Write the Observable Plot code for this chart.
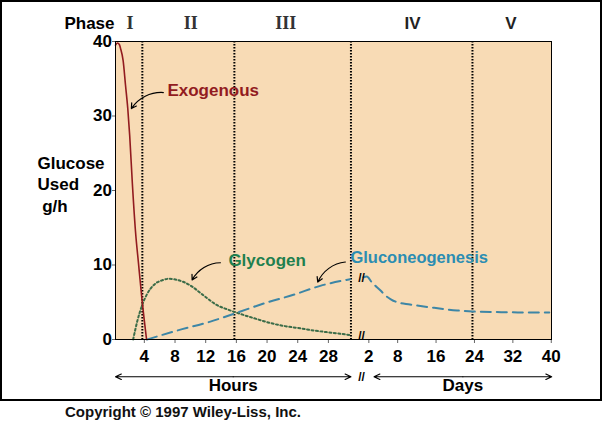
<!DOCTYPE html>
<html><head><meta charset="utf-8">
<script src="https://cdn.jsdelivr.net/npm/d3@7"></script>
<script src="https://cdn.jsdelivr.net/npm/@observablehq/plot@0.6"></script>
<style>
body{margin:0;background:#fff;font-family:"Liberation Sans",Arial,sans-serif;}
#wrap{position:relative;width:602px;height:430px;overflow:hidden;}
#box{position:absolute;left:0;top:0;width:602px;height:401px;border:2px solid #000;box-sizing:border-box;pointer-events:none;}
#cap{position:absolute;left:65px;top:403px;font-weight:bold;font-size:15px;line-height:18px;color:#111;font-family:"Liberation Sans",Arial,sans-serif;white-space:nowrap;}
</style></head><body>
<div id="wrap"><div id="chart"></div><div id="box"></div><div id="cap">Copyright © 1997 Wiley-Liss, Inc.</div></div>
<script>
// ---- data (hours section) ----
const exoHours  = [0.5, 0.75, 1.0, 1.15, 1.5, 1.8, 2.1, 2.35, 2.7, 3.1, 3.5, 3.97, 4.25, 4.55];
const exoValues = [39.5, 39.8, 39.6, 39.1, 37.4, 34.2, 31.0, 27.4, 20.9, 14.6, 10.2, 5.2, 2.6, 0];

const glyHours  = [2.8, 3.35, 3.97, 4.62, 5.7, 6.6, 7.43, 8.3, 9.3, 10.26, 12.0, 13.75, 15.2, 18.1, 22.0, 24.6, 26.4, 28.8, 31.1];
const glyValues = [0, 2.5, 4.6, 6.1, 7.5, 7.95, 8.15, 8.05, 7.75, 7.25, 5.9, 4.6, 4.0, 3.0, 1.9, 1.5, 1.2, 0.9, 0.6];

const gngHours  = [4.62, 8.53, 12.87, 16.36, 20.05, 23.7, 27.2, 31.1];
const gngValues = [0, 1.2, 2.4, 3.6, 4.9, 6.0, 7.2, 8.1];

// ---- data (days section) ----
const gngDays      = [1.3, 2, 3, 4.8, 5.9, 7, 8.3, 11, 16, 20.8, 24, 30, 35, 40];
const gngDayValues = [8.35, 8.45, 7.7, 6.6, 5.9, 5.4, 5.0, 4.7, 4.25, 3.9, 3.76, 3.67, 3.63, 3.62];

// ---- ticks / labels ----
const yTicks = [0, 10, 20, 30, 40];
const hourTicks = [4, 8, 12, 16, 20, 24, 28];
const dayTicks = [2, 8, 16, 24, 32, 40];
const phaseHourBounds = [4, 16, 31.2];
const phaseDayBounds = [24];
const phaseNamesHours = ["I", "II", "III"];
const phaseHourPos = [2.4, 10.3, 22.7];
const phaseNamesDays = ["IV", "V"];
const phaseDayPos = [11.5, 32];

// composite x: hours map directly, days are compressed after the break
const DAY0 = 32.02, DAYK = 0.626;
const dayU = d => DAY0 + d * DAYK;
const HOURS_END = 31.2;
const BREAK_U = 32.57;

const RED = "#921b1f", GREEN_L = "#1f804f", GREEN = "#3b6c48", BLUE_L = "#2b8db2", BLUE = "#3d86a6", BG = "#f8dbb5";

const exo = exoHours.map((h, i) => ({u: h, v: exoValues[i]}));
const gly = glyHours.map((h, i) => ({u: h, v: glyValues[i]}));
const gngH = gngHours.map((h, i) => ({u: h, v: gngValues[i]}));
const gngD = gngDays.map((d, i) => ({u: dayU(d), v: gngDayValues[i]}));

const phaseLines = [...phaseHourBounds, ...phaseDayBounds.map(dayU)];
const dayLabel = new Map(dayTicks.map(d => [dayU(d), String(d)]));

const labels = [
  {u: 7.27, v: 33.4, t: "Exogenous", c: RED, fs: 17},
  {u: 15.22, v: 10.6, t: "Glycogen", c: GREEN_L, fs: 17},
  {u: 31.13, v: 10.97, t: "Gluconeogenesis", c: BLUE_L, fs: 16.5}
];
const pointers = [
  {x1: 6.74, y1: 33.15, x2: 2.57, y2: 31.0},
  {x1: 14.18, y1: 10.3, x2: 10.49, y2: 8.0},
  {x1: 30.47, y1: 10.4, x2: 26.87, y2: 7.7}
];
const spans = [
  {a: 0.5, b: HOURS_END, t: "Hours"},
  {a: dayU(3.5), b: dayU(40.5), t: "Days"}
];
const spanArrows = spans.flatMap(s => [{from: (s.a + s.b) / 2, to: s.a}, {from: (s.a + s.b) / 2, to: s.b}]);
const ARROW_Y = -5.0, SPAN_LABEL_Y = -6.2;
const breaks = [{u: BREAK_U, v: 8.2}, {u: BREAK_U, v: 0.4}, {u: BREAK_U, v: ARROW_Y}];

const FONT = "Liberation Sans, Arial, sans-serif";

const chart = Plot.plot({
  width: 602, height: 400,
  marginLeft: 115, marginRight: 51, marginTop: 41, marginBottom: 61,
  x: {domain: [0.5, 57.35], axis: null},
  y: {domain: [0, 40], axis: null},
  style: {fontFamily: FONT, fontWeight: "bold", fontSize: "17px", background: "transparent", color: "#000", overflow: "visible"},
  marks: [
    Plot.frame({fill: BG, stroke: null}),
    Plot.ruleX(phaseLines, {stroke: "#000", strokeWidth: 2, strokeDasharray: "1.5,1.5"}),
    Plot.axisY(yTicks, {tickSize: 3, tickPadding: 0.5, label: null, stroke: "#666", fontSize: 17, fontWeight: "bold", fill: "#000"}),
    Plot.axisX(hourTicks, {tickSize: 4, tickPadding: 6, label: null, stroke: "#666", fontSize: 17, fontWeight: "bold", fill: "#000", dx: 2}),
    Plot.axisX(dayTicks.map(dayU), {tickSize: 4, tickPadding: 6, label: null, stroke: "#666", fontSize: 17, fontWeight: "bold", fill: "#000", dx: 2, tickFormat: u => dayLabel.get(u)}),
    Plot.line(gly, {x: "u", y: "v", stroke: GREEN, strokeWidth: 2, strokeDasharray: "2,2.5", curve: "monotone-x"}),
    Plot.line(gngH, {x: "u", y: "v", stroke: BLUE, strokeWidth: 2, strokeDasharray: "10,6", curve: "monotone-x"}),
    Plot.line(gngD, {x: "u", y: "v", stroke: BLUE, strokeWidth: 2, strokeDasharray: "10,6", curve: "monotone-x"}),
    Plot.line(exo, {x: "u", y: "v", stroke: RED, strokeWidth: 1.6, curve: "monotone-x"}),
    Plot.frame({stroke: "#000", strokeWidth: 1}),
    Plot.arrow(pointers, {x1: "x1", y1: "y1", x2: "x2", y2: "y2", bend: -30, stroke: "#000", strokeWidth: 1.2, headLength: 7}),
    Plot.text(labels, {x: "u", y: "v", text: "t", fill: "c", textAnchor: "start", fontSize: d => d.fs, fontWeight: "bold"}),
    Plot.text(breaks, {x: "u", y: "v", text: () => "//", fontSize: 12, fontWeight: "bold", fill: "#000"}),
    Plot.arrow(spanArrows, {x1: "from", x2: "to", y1: () => ARROW_Y, y2: () => ARROW_Y, stroke: "#000", strokeWidth: 1.2, headLength: 8, headAngle: 50}),
    Plot.text(spans, {x: d => (d.a + d.b) / 2, y: () => SPAN_LABEL_Y, text: "t", fontSize: 17, fontWeight: "bold", lineAnchor: "top", dy: -7}),
    Plot.text(["Phase"], {x: () => 0.5, frameAnchor: "top", textAnchor: "end", dx: -1, dy: -25, fontSize: 17, fontWeight: "bold"}),
    Plot.text(phaseNamesHours, {x: (d, i) => phaseHourPos[i], frameAnchor: "top", dy: -25, fontSize: 18, fontWeight: "bold", fontFamily: "Liberation Serif, Times New Roman, serif", fill: "#333"}),
    Plot.text(phaseNamesDays, {x: (d, i) => dayU(phaseDayPos[i]), frameAnchor: "top", dy: -25, fontSize: 17, fontWeight: "bold", fill: "#222"}),
    Plot.text(["Glucose\nUsed\n\u00a0g/h"], {frameAnchor: "left", textAnchor: "start", dx: -78, dy: -7, lineHeight: 1.27, fontSize: 17, fontWeight: "bold"})
  ]
});
document.getElementById("chart").appendChild(chart);
</script>
</body></html>
